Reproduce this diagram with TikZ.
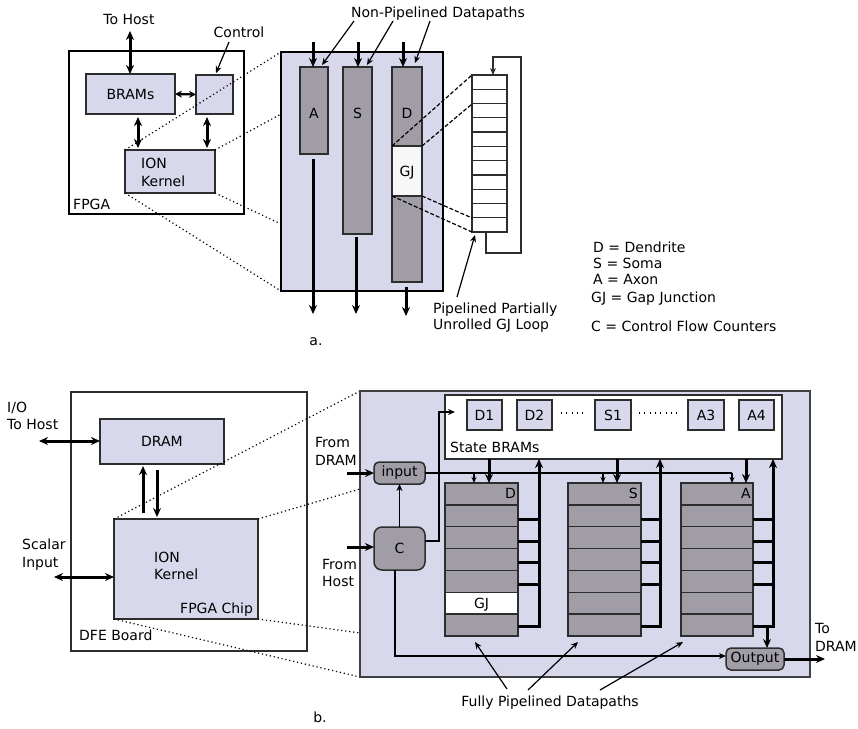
\documentclass[tikz,border=0pt]{standalone}
\usepackage{fontspec}
\setmainfont{DejaVu Sans}
\usetikzlibrary{arrows.meta}
\definecolor{lav}{RGB}{216,216,236}
\definecolor{dpg}{RGB}{161,157,167}
\definecolor{edge}{RGB}{45,45,45}
\newcommand\mybox[7]{\node[#1,minimum width={#5-#3},minimum height={#6-#4}] (#2) at ({(#3+#5)/2},{(#4+#6)/2}) {#7};}
\begin{document}
\begin{tikzpicture}[x=1pt,y=-1pt,font=\fontsize{14}{17}\selectfont,
  lavbox/.style={draw=edge,fill=lav,line width=1.5pt,inner sep=0pt,outer sep=0pt},
  dpbox/.style={draw=edge,fill=dpg,line width=1.5pt,inner sep=0pt,outer sep=0pt},
  rbox/.style={dpbox,rounded corners=5pt},
  plain/.style={inner sep=0pt,outer sep=0pt},
  lbl/.style={inner sep=0pt,anchor=base},
  lblw/.style={inner sep=0pt,anchor=base west},
  lble/.style={inner sep=0pt,anchor=base east},
  tarr/.style={line width=3pt,-{Stealth[length=9pt,width=8pt]}},
  dbl/.style={line width=3pt,{Stealth[length=9pt,width=8pt]}-{Stealth[length=9pt,width=8pt]}},
  sdbl/.style={line width=2.2pt,{Stealth[length=7pt,width=7pt]}-{Stealth[length=7pt,width=7pt]}},
  thinarr/.style={line width=1.2pt,-{Stealth[length=7pt,width=6pt]}},
  midarr/.style={line width=1.6pt,-{Stealth[length=7pt,width=6pt]}},
  dots/.style={line width=1.2pt,dash pattern=on 1.2pt off 2.8pt},
  gjdash/.style={line width=1.2pt,dash pattern=on 4pt off 2pt},
  bus/.style={line width=3pt}
]
\useasboundingbox (0,0) rectangle (858,728);

% ================= Part a =================
\mybox{draw,fill=white,line width=1.8pt,plain}{fpga}{69}{51}{244}{214}{}
\node[lblw] at (73,209) {FPGA};
\mybox{lavbox}{brams}{86}{74}{175}{114}{BRAMs}
\mybox{lavbox}{ctrl}{196}{75}{233}{114}{}
\mybox{lavbox}{ion}{125}{150}{215}{193}{}
\node[lblw] (ionl1) at (141,168) {ION};
\node[lblw] (ionl2) at (141,186) {Kernel};

\node[lbl] (tohost) at (129,24) {To Host};
\coordinate (tohostend) at (130,31);
\draw[dbl] (tohostend) -- (brams.north -| tohostend);
\node[lbl] (ctrllbl) at (239,37) {Control};
\coordinate (ctrlstart) at (229,42);
\coordinate (ctrlend) at (216,73);
\draw[thinarr] (ctrlstart) -- (ctrlend);
\draw[sdbl] (brams.east) -- (ctrl.west);
\coordinate (b1t) at (138,117); \coordinate (b1b) at (138,148);
\coordinate (c1t) at (207,117); \coordinate (c1b) at (207,148);
\draw[dbl] (b1t) -- (b1b);
\draw[dbl] (c1t) -- (c1b);

% zoom lines a
\coordinate (za2) at (281,114);
\coordinate (za3) at (281,224);
\coordinate (za1) at (281,52);
\coordinate (za4) at (281,291);
\draw[dots] (ion.north west) -- (za1);
\draw[dots] (ion.north east) -- (za2);
\draw[dots] (ion.south east) -- (za3);
\draw[dots] (ion.south west) -- (za4);

\mybox{draw,fill=lav,line width=2.2pt,plain}{dpa}{281}{52}{443}{291}{}
\mybox{dpbox}{colA}{300}{67}{328}{154}{}
\mybox{dpbox}{colS}{343}{67}{372}{234}{}
\mybox{dpbox}{colD}{392}{67}{422}{282}{}
\mybox{draw=edge,fill=white!97!black,line width=1.5pt,plain}{gj}{392}{146}{422}{196}{}
\node[lbl] at (314,118) {A};
\node[lbl] at (357.5,118) {S};
\node[lbl] at (407,118) {D};
\node[lbl] at (407,176) {GJ};

\coordinate (inA) at (313,42); \coordinate (inS) at (358,42); \coordinate (inD) at (403,42);
\draw[tarr] (inA) -- (inA |- colA.north);
\draw[tarr] (inS) -- (inS |- colS.north);
\draw[tarr] (inD) -- (inD |- colD.north);
\coordinate (oA1) at (313,159); \coordinate (oA2) at (313,314);
\coordinate (oS1) at (356,237); \coordinate (oS2) at (356,314);
\coordinate (oD1) at (406,287); \coordinate (oD2) at (406,316);
\draw[tarr] (oA1) -- (oA2);
\draw[tarr] (oS1) -- (oS2);
\draw[tarr] (oD1) -- (oD2);

\node[lbl] (npd) at (438,17) {Non-Pipelined Datapaths};
\coordinate (np1) at (354,21); \coordinate (np1e) at (322,65);
\coordinate (np2) at (393,21); \coordinate (np2e) at (367,65);
\coordinate (np3) at (430,21); \coordinate (np3e) at (415,63);
\draw[thinarr] (np1) -- (np1e);
\draw[thinarr] (np2) -- (np2e);
\draw[thinarr] (np3) -- (np3e);

% loop
\mybox{draw=edge,fill=white,line width=1.4pt,plain}{loop}{472}{75}{507}{232}{}
\foreach \k in {1,...,10}{\draw[line width=1.2pt,edge] (472,{75+\k*157/11}) -- (507,{75+\k*157/11});}
\coordinate (lp1) at (486,232);
\coordinate (lp2) at (493,75);
\draw[line width=1.4pt,edge,-{Stealth[length=7pt,width=6pt]}] (lp1) -- (486,253) -- (521,253) -- (521,57) -- (493,57) -- (lp2);
\coordinate (l2) at (472,104);
\coordinate (l10) at (472,218);
\draw[gjdash] (gj.north west) -- (loop.north west);
\draw[gjdash] (gj.north east) -- (l2);
\draw[gjdash] (gj.south east) -- (l10);
\draw[gjdash] (gj.south west) -- (loop.south west);

\node[lblw] (ppl1) at (433,313) {Pipelined Partially};
\node[lblw] (ppl2) at (433,329) {Unrolled GJ Loop};
\coordinate (pps) at (457,297); \coordinate (ppe) at (475,235);
\draw[thinarr] (pps) -- (ppe);

\node[lbl] at (316,345) {a.};

\node[lblw] at (593,252) {D = Dendrite};
\node[lblw] at (593,268) {S = Soma};
\node[lblw] at (593,284) {A = Axon};
\node[lblw] at (591,302) {GJ = Gap Junction};
\node[lblw] at (591,331) {C = Control Flow Counters};

% ================= Part b =================
\mybox{draw=edge,fill=white,line width=1.2pt,plain}{dfe}{71}{392}{307}{651}{}
\node[lblw] at (79,640) {DFE Board};
\mybox{lavbox}{dram}{100}{419}{224}{464}{DRAM}
\mybox{lavbox}{kern}{114}{519}{258}{619}{}
\node[lblw] at (154,562) {ION};
\node[lblw] at (154,579) {Kernel};
\node[lblw] at (180,613) {FPGA Chip};
\coordinate (du1) at (143,513); \coordinate (du2) at (143,466);
\coordinate (dd1) at (157,470); \coordinate (dd2) at (157,517);
\draw[tarr] (du1) -- (du2);
\draw[tarr] (dd1) -- (dd2);

\node[lblw] at (7,412) {I/O};
\node[lblw] at (7,429) {To Host};
\coordinate (io1) at (39,441);
\draw[dbl] (io1) -- (dram.west |- io1);
\node[lblw] at (22,549) {Scalar};
\node[lblw] at (22,567) {Input};
\coordinate (sc1) at (54,577);
\draw[dbl] (sc1) -- (kern.west |- sc1);

\coordinate (zb1) at (360,391);
\coordinate (zb2) at (360,489);
\coordinate (zb3) at (360,633);
\coordinate (zb4) at (360,677);
\draw[dots] (kern.north west) -- (zb1);
\draw[dots] (kern.north east) -- (zb2);
\draw[dots] (kern.south east) -- (zb3);
\draw[dots] (kern.south west) -- (zb4);

\mybox{draw=black!75,fill=lav,line width=1.6pt,plain}{bb}{360}{391}{810}{677}{}
\mybox{draw=edge,fill=white,line width=1.6pt,plain}{sb}{445}{395}{782}{459}{}
\node[lblw] at (450,452) {State BRAMs};
\mybox{lavbox}{d1}{467}{400}{502}{430}{D1}
\mybox{lavbox}{d2}{517}{400}{552}{430}{D2}
\mybox{lavbox}{s1}{595}{400}{631}{430}{S1}
\mybox{lavbox}{a3}{688}{400}{724}{430}{A3}
\mybox{lavbox}{a4}{739}{400}{774}{430}{A4}
\draw[line width=1.1pt,dash pattern=on 1.1pt off 4.2pt] (561,413) -- (586,413);
\draw[line width=1.1pt,dash pattern=on 1.1pt off 4.2pt] (639,413) -- (681,413);

\mybox{rbox}{inp}{374}{462}{425}{484}{input}
\mybox{rbox,rounded corners=8pt}{cbox}{374}{527}{425}{570}{C}
\mybox{rbox}{outp}{726}{648}{784}{670}{Output}

\node[lblw] at (315,447) {From};
\node[lblw] at (315,465) {DRAM};
\node[lblw] at (322,569) {From};
\node[lblw] at (322,586) {Host};
\coordinate (fd) at (347,473);
\coordinate (fh) at (347,547);
\draw[tarr] (fd) -- (inp.west |- fd);
\draw[tarr] (fh) -- (cbox.west |- fh);

% columns
\mybox{dpbox}{bD}{445}{483}{518}{636}{}
\mybox{dpbox}{bS}{568}{483}{641}{636}{}
\mybox{dpbox}{bA}{681}{483}{753}{636}{}
\fill[white] (445.8,{483+5*153/7}) rectangle (517.2,{483+6*153/7});
\foreach \xl/\xr in {445/518,568/641,681/753}{
  \foreach \k in {1,...,6}{\draw[line width=1.4pt,edge] (\xl,{483+\k*153/7}) -- (\xr,{483+\k*153/7});}
}
\node[lbl] at (481.5,608) {GJ};
\node[lble] at (516,498) {D};
\node[lble] at (638,498) {S};
\node[lble] at (751,498) {A};

% control / input wiring
\draw[thinarr] (cbox.north) -- (inp.south);
\coordinate (cs1) at (425,541);
\coordinate (cs2) at (455,412);
\draw[thinarr] (cs1) -- (439,541) -- (439,412) -- (cs2);
\coordinate (ibD) at (474,473); \coordinate (ibS) at (603,473); \coordinate (ibA) at (732,473);
\draw[line width=1.5pt] (inp.east) -- (ibA);
\draw[line width=1.5pt,-{Stealth[length=6pt,width=5pt]}] (ibD) -- (ibD |- bD.north);
\draw[line width=1.5pt,-{Stealth[length=6pt,width=5pt]}] (ibS) -- (ibS |- bS.north);
\draw[line width=1.5pt,-{Stealth[length=6pt,width=5pt]}] (ibA) -- (ibA |- bA.north);
\coordinate (sdD) at (489,459); \coordinate (sdS) at (617,459); \coordinate (sdA) at (746,459);
\draw[tarr] (sdD) -- (sdD |- bD.north);
\draw[tarr] (sdS) -- (sdS |- bS.north);
\draw[tarr] (sdA) -- (sdA |- bA.north);

% feedback buses
\foreach \xr/\xb in {518/539,641/660,753/773}{
  \foreach \yy in {519,541,562,584,626}{\draw[bus] (\xr,\yy) -- (\xb+1.5,\yy);}
  \draw[tarr] (\xb,627.5) -- (\xb,459);
}
\coordinate (ao) at (767,626);
\draw[tarr] (ao) -- (ao |- outp.north);

\coordinate (co1) at (395,570);
\coordinate (co2) at (395,656);
\draw[midarr] (co1) -- (co2) -- (outp.west |- co2);
\coordinate (td) at (825,659);
\draw[tarr] (outp.east) -- (td);
\node[lblw] at (815,633) {To};
\node[lblw] at (815,651) {DRAM};

\node[lbl] (fpd) at (550,706) {Fully Pipelined Datapaths};
\coordinate (f1) at (507,689); \coordinate (f1e) at (475,642);
\coordinate (f2) at (528,690); \coordinate (f2e) at (578,642);
\coordinate (f3) at (600,690); \coordinate (f3e) at (683,642);
\draw[thinarr] (f1) -- (f1e);
\draw[thinarr] (f2) -- (f2e);
\draw[thinarr] (f3) -- (f3e);

\node[lbl] at (320,722) {b.};
\end{tikzpicture}
\end{document}
